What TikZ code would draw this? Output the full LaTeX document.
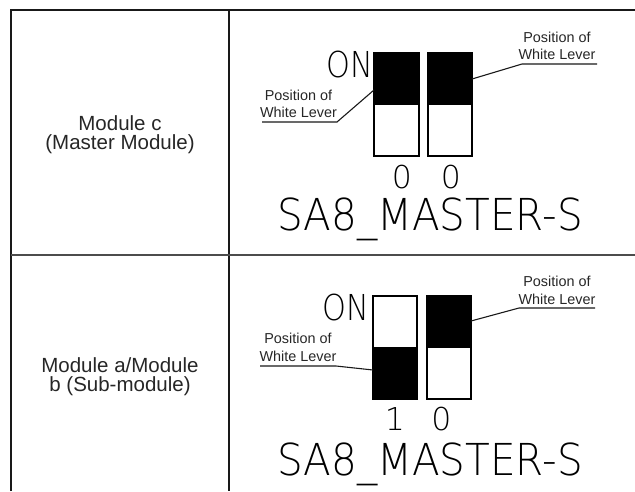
\documentclass[tikz,border=0pt]{standalone}
\usepackage{fontspec}
\usepackage{graphicx}
\setmainfont{Liberation Sans}
\newfontfamily\cadfont{DejaVu Sans ExtraLight}
\begin{document}
\begin{tikzpicture}[x=1pt,y=-1pt,
  gridline/.style={line width=1.8pt, black!90},
  swbox/.style={draw=black, line width=1.4pt},
  leverfill/.style={fill=black},
  lbl/.style={inner sep=0pt, anchor=base, font=\fontsize{14.4}{16}\selectfont, text=black!85},
  modtxt/.style={inner sep=0pt, anchor=base, font=\fontsize{20.5}{24}\selectfont, text=black!85},
  cadbig/.style={inner sep=0pt, anchor=base, font=\cadfont\fontsize{44}{48}\selectfont},
  caddigit/.style={inner sep=0pt, anchor=base, font=\cadfont\fontsize{31.5}{34}\selectfont},
  cadon/.style={inner sep=0pt, anchor=base east, font=\cadfont\fontsize{35.7}{38}\selectfont},
  leader/.style={line width=1.1pt, black!90}]

\useasboundingbox (0,0) rectangle (635,491);

% table grid
\draw[gridline] (11,491) -- (11,10) -- (635,10);
\draw[gridline] (229,10) -- (229,491);
\draw[gridline, black!70] (11,255) -- (635,255);

% left column texts
\node[modtxt] (c1a) at (120,130) {Module c};
\node[modtxt] (c1b) at (120,149) {(Master Module)};
\node[modtxt] (c2a) at (120,372) {Module a/Module};
\node[modtxt] (c2b) at (120,391) {b (Sub-module)};

% ===== top switch block =====
\fill[leverfill] (374,53) rectangle (419,105);
\draw[swbox] (374,53) rectangle (419,156);
\fill[leverfill] (428,53) rectangle (472,105);
\draw[swbox] (428,53) rectangle (472,156);
\coordinate (t1) at (374,90);
\coordinate (t2) at (472,79);

\node[cadon] (on1) at (373,77) {\scalebox{0.85}[1]{ON}};
\node[caddigit] (d11) at (402,188) {0};
\node[caddigit] (d12) at (451,188) {0};
\node[cadbig] (sa1) at (430,230) {\scalebox{0.92}[1]{SA8\_MASTER-S}};

\node[lbl] (pl1a) at (298.5,100.7) {Position of};
\node[lbl] (pl1b) at (298.5,117.3) {White Lever};
\coordinate (ul1a) at (262,122);
\coordinate (ul1b) at (337,122);
\draw[leader] (ul1a) -- (ul1b) -- (t1);

\node[lbl] (pr1a) at (557,42.5) {Position of};
\node[lbl] (pr1b) at (557,59) {White Lever};
\coordinate (ur1a) at (597,64);
\coordinate (ur1b) at (522,64);
\draw[leader] (ur1a) -- (ur1b) -- (t2);

% ===== bottom switch block =====
\fill[leverfill] (373,347) rectangle (417,399);
\draw[swbox] (373,296) rectangle (417,399);
\fill[leverfill] (427,296) rectangle (471,348);
\draw[swbox] (427,296) rectangle (471,399);
\coordinate (b1) at (373,370);
\coordinate (b2) at (471,321);

\node[cadon] (on2) at (369,320) {\scalebox{0.85}[1]{ON}};
\node[caddigit] (d21) at (395,430) {1};
\node[caddigit] (d22) at (441.5,430) {0};
\node[cadbig] (sa2) at (430,475) {\scalebox{0.92}[1]{SA8\_MASTER-S}};

\node[lbl] (pl2a) at (298,343.3) {Position of};
\node[lbl] (pl2b) at (298,361.6) {White Lever};
\coordinate (ul2a) at (260,366);
\coordinate (ul2b) at (336,366);
\draw[leader] (ul2a) -- (ul2b) -- (b1);

\node[lbl] (pr2a) at (557,286) {Position of};
\node[lbl] (pr2b) at (557,304) {White Lever};
\coordinate (ur2a) at (595,308);
\coordinate (ur2b) at (519,308);
\draw[leader] (ur2a) -- (ur2b) -- (b2);

\end{tikzpicture}
\end{document}
